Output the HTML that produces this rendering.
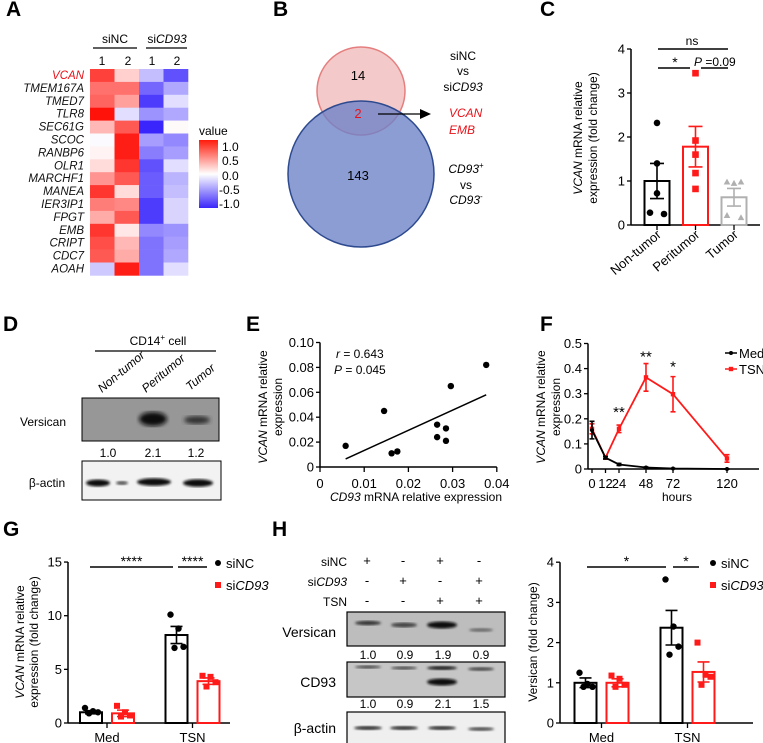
<!DOCTYPE html>
<html><head><meta charset="utf-8"><style>
html,body{margin:0;padding:0;background:#fff;}
svg{display:block;font-family:"Liberation Sans",Arial,sans-serif;}
.pl{font-weight:bold;font-size:21px;}
.t{font-size:12px;}
.it{font-style:italic;}
</style></head><body>
<svg id="fig" width="763" height="743" viewBox="0 0 763 743" xmlns="http://www.w3.org/2000/svg">
<defs>
<linearGradient id="cbar" x1="0" y1="0" x2="0" y2="1">
<stop offset="0" stop-color="#ff1a0a"/><stop offset="0.5" stop-color="#ffffff"/><stop offset="1" stop-color="#3a26fa"/>
</linearGradient>
<filter id="blur1"><feGaussianBlur stdDeviation="2"/></filter>
<filter id="blur2"><feGaussianBlur stdDeviation="1.2"/></filter>
</defs>

<text class="pl" x="6" y="16">A</text>
<text class="pl" x="273" y="16">B</text>
<text class="pl" x="540" y="16">C</text>
<text class="pl" x="3" y="331">D</text>
<text class="pl" x="246" y="331">E</text>
<text class="pl" x="540" y="331">F</text>
<text class="pl" x="3" y="536">G</text>
<text class="pl" x="272" y="536">H</text>

<g id="heatA"></g>
<text class="t" x="115" y="43" text-anchor="middle">siNC</text>
<line x1="93" y1="48" x2="137" y2="48" stroke="#000" stroke-width="1.3"/>
<text class="t" x="167" y="43" text-anchor="middle">si<tspan font-style="italic">CD93</tspan></text>
<line x1="146" y1="48" x2="187" y2="48" stroke="#000" stroke-width="1.3"/>
<text class="t" x="102" y="65" text-anchor="middle">1</text>
<text class="t" x="128" y="65" text-anchor="middle">2</text>
<text class="t" x="152" y="65" text-anchor="middle">1</text>
<text class="t" x="177" y="65" text-anchor="middle">2</text>
<text class="t" x="199" y="135">value</text>
<rect x="199" y="140" width="19" height="68" fill="url(#cbar)"/>
<text class="t" x="222" y="151">1.0</text>
<text class="t" x="222" y="165">0.5</text>
<text class="t" x="222" y="180">0.0</text>
<text class="t" x="219" y="194">-0.5</text>
<text class="t" x="219" y="208">-1.0</text>

<circle cx="361" cy="91" r="44" fill="#f4c9c9" stroke="#e57f7f" stroke-width="1.5"/>
<circle cx="361" cy="174" r="73" fill="#6c82c8" fill-opacity="0.78" stroke="#2e4a8f" stroke-width="1.5"/>
<text x="358" y="80" font-size="13" text-anchor="middle">14</text>
<text x="358" y="118" font-size="13" fill="#e8131a" text-anchor="middle">2</text>
<text x="358" y="180" font-size="13" text-anchor="middle">143</text>
<line x1="378" y1="114" x2="422" y2="114" stroke="#000" stroke-width="1.3"/>
<polygon points="431,114 420,109 420,119" fill="#000"/>
<text class="t" x="463" y="60" text-anchor="middle">siNC</text>
<text class="t" x="463" y="75" text-anchor="middle">vs</text>
<text class="t" x="463" y="91" text-anchor="middle">si<tspan font-style="italic">CD93</tspan></text>
<text class="t it" x="449" y="117" fill="#e8131a">VCAN</text>
<text class="t it" x="449" y="134" fill="#e8131a">EMB</text>
<text class="t" x="466" y="173" text-anchor="middle"><tspan font-style="italic">CD93</tspan><tspan font-size="8" dy="-5">+</tspan></text>
<text class="t" x="466" y="189" text-anchor="middle">vs</text>
<text class="t" x="466" y="204" text-anchor="middle"><tspan font-style="italic">CD93</tspan><tspan font-size="8" dy="-5">-</tspan></text>

<g id="chartC"></g>
<text class="t" transform="translate(582,138) rotate(-90)" text-anchor="middle"><tspan font-style="italic">VCAN</tspan> mRNA relative</text>
<text class="t" transform="translate(597,138) rotate(-90)" text-anchor="middle">expression (fold change)</text>

<text class="t" x="158" y="345" text-anchor="middle">CD14<tspan font-size="8" dy="-5">+</tspan><tspan dy="5"> cell</tspan></text>
<line x1="95" y1="351" x2="216" y2="351" stroke="#000" stroke-width="1.3"/>
<text class="t it" transform="translate(102,393) rotate(-40)">Non-tumor</text>
<text class="t it" transform="translate(146,393) rotate(-40)">Peritumor</text>
<text class="t it" transform="translate(190,391) rotate(-40)">Tumor</text>
<text class="t" x="43" y="426" text-anchor="middle">Versican</text>
<rect x="82" y="398" width="137" height="43" fill="#979797" stroke="#000" stroke-width="1"/>
<ellipse cx="153" cy="419" rx="14" ry="7" fill="#111" filter="url(#blur1)"/>
<ellipse cx="197" cy="420" rx="13" ry="4" fill="#333" filter="url(#blur1)"/>
<text class="t" x="108" y="457" text-anchor="middle">1.0</text>
<text class="t" x="153" y="457" text-anchor="middle">2.1</text>
<text class="t" x="196" y="457" text-anchor="middle">1.2</text>
<text class="t" x="47" y="487" text-anchor="middle">β-actin</text>
<rect x="82" y="461" width="139" height="39" fill="#f2f2f2" stroke="#000" stroke-width="1"/>
<ellipse cx="98" cy="483" rx="12" ry="3.5" fill="#111" filter="url(#blur2)"/>
<ellipse cx="122" cy="483" rx="6" ry="2" fill="#555" filter="url(#blur2)"/>
<ellipse cx="154" cy="482" rx="17" ry="3.8" fill="#111" filter="url(#blur2)"/>
<ellipse cx="198" cy="483" rx="15" ry="3.8" fill="#111" filter="url(#blur2)"/>

<g id="chartE"></g>
<text class="t" x="336" y="358"><tspan font-style="italic">r</tspan> = 0.643</text>
<text class="t" x="334" y="374"><tspan font-style="italic">P</tspan> = 0.045</text>
<text class="t" transform="translate(267,407) rotate(-90)" text-anchor="middle"><tspan font-style="italic">VCAN</tspan> mRNA relative</text>
<text class="t" transform="translate(282,407) rotate(-90)" text-anchor="middle">expression</text>
<text class="t" x="416" y="501" text-anchor="middle"><tspan font-style="italic">CD93</tspan> mRNA relative expression</text>

<g id="chartF"></g>
<text class="t" transform="translate(545,407) rotate(-90)" text-anchor="middle"><tspan font-style="italic">VCAN</tspan> mRNA relative</text>
<text class="t" transform="translate(560,407) rotate(-90)" text-anchor="middle">expression</text>
<text class="t" x="677" y="501" text-anchor="middle">hours</text>

<g id="chartG"></g>
<text class="t" transform="translate(24,642) rotate(-90)" text-anchor="middle"><tspan font-style="italic">VCAN</tspan>  mRNA relative</text>
<text class="t" transform="translate(38,642) rotate(-90)" text-anchor="middle">expression (fold change)</text>

<text class="t" x="347" y="566" text-anchor="end">siNC</text>
<text class="t" x="347" y="586" text-anchor="end">si<tspan font-style="italic">CD93</tspan></text>
<text class="t" x="347" y="606" text-anchor="end">TSN</text>
<g id="pm"></g>
<text x="336" y="637" font-size="14" text-anchor="end">Versican</text>
<rect x="347" y="612" width="158" height="34" fill="#bdbdbd" stroke="#000" stroke-width="1.2"/>
<ellipse cx="368" cy="623" rx="13" ry="2.2" fill="#333" filter="url(#blur2)"/>
<ellipse cx="404" cy="625" rx="13" ry="2.5" fill="#444" filter="url(#blur2)"/>
<ellipse cx="442" cy="625" rx="15" ry="3.5" fill="#111" filter="url(#blur2)"/>
<ellipse cx="481" cy="630" rx="12" ry="1.8" fill="#666" filter="url(#blur2)"/>
<text class="t" x="368" y="659" text-anchor="middle">1.0</text>
<text class="t" x="405" y="659" text-anchor="middle">0.9</text>
<text class="t" x="443" y="659" text-anchor="middle">1.9</text>
<text class="t" x="481" y="659" text-anchor="middle">0.9</text>
<text x="336" y="687" font-size="14" text-anchor="end">CD93</text>
<rect x="347" y="662" width="158" height="35" fill="#c6c6c6" stroke="#000" stroke-width="1.2"/>
<ellipse cx="368" cy="667" rx="13" ry="1.5" fill="#444" filter="url(#blur2)"/>
<ellipse cx="404" cy="668" rx="13" ry="1.5" fill="#444" filter="url(#blur2)"/>
<ellipse cx="442" cy="668" rx="15" ry="2" fill="#222" filter="url(#blur2)"/>
<ellipse cx="442" cy="682" rx="15" ry="3.5" fill="#111" filter="url(#blur2)"/>
<ellipse cx="481" cy="669" rx="13" ry="1.8" fill="#444" filter="url(#blur2)"/>
<text class="t" x="368" y="708" text-anchor="middle">1.0</text>
<text class="t" x="405" y="708" text-anchor="middle">0.9</text>
<text class="t" x="443" y="708" text-anchor="middle">2.1</text>
<text class="t" x="481" y="708" text-anchor="middle">1.5</text>
<text x="336" y="733" font-size="14" text-anchor="end">β-actin</text>
<rect x="347" y="712" width="158" height="34" fill="#efefef" stroke="#000" stroke-width="1.2"/>
<ellipse cx="368" cy="728" rx="14" ry="2" fill="#333" filter="url(#blur2)"/>
<ellipse cx="404" cy="728" rx="14" ry="2" fill="#333" filter="url(#blur2)"/>
<ellipse cx="442" cy="728" rx="14" ry="2" fill="#333" filter="url(#blur2)"/>
<ellipse cx="481" cy="729" rx="13" ry="1.8" fill="#444" filter="url(#blur2)"/>

<g id="chartH"></g>
<text class="t" transform="translate(537,642) rotate(-90)" text-anchor="middle">Versican (fold change)</text>
</svg>

<script>
const genes = ["VCAN","TMEM167A","TMED7","TLR8","SEC61G","SCOC","RANBP6","OLR1","MARCHF1","MANEA","IER3IP1","FPGT","EMB","CRIPT","CDC7","AOAH"];
const heatS1 = [0.8,0.6,0.65,1.0,0.3,-0.02,0.05,0.15,0.45,0.85,0.55,0.35,0.85,0.75,0.7,-0.25];
const heatS2 = [0.2,0.6,0.4,-0.15,0.7,0.95,0.95,0.85,0.7,0.15,0.5,0.7,0.1,0.3,0.35,0.95];
const heatS3 = [-0.3,-0.7,-0.9,-0.5,-1.0,-0.45,-0.6,-0.8,-0.75,-0.75,-0.9,-0.9,-0.55,-0.65,-0.65,-0.65];
const heatS4 = [-0.8,-0.4,-0.15,-0.4,0.02,-0.55,-0.45,-0.15,-0.35,-0.3,-0.2,-0.2,-0.5,-0.45,-0.4,-0.15];

const cCats = ["Non-tumor","Peritumor","Tumor"];
const cMeans = [1.0,1.78,0.63];
const cSem = [0.4,0.46,0.2];
const cPts0 = [2.32,1.4,0.72,0.28,0.25];
const cPts1 = [3.45,1.92,1.6,1.18,0.82];
const cPts2 = [0.98,0.95,0.98,0.22,0.17];
const cTicks = [0,1,2,3,4];

const eX = [0.0058,0.0145,0.0162,0.0175,0.0265,0.0265,0.0285,0.0285,0.0296,0.0376];
const eY = [0.017,0.045,0.011,0.0125,0.034,0.024,0.031,0.021,0.065,0.082];
const eFitX = [0.0058,0.0376];
const eFitY = [0.0065,0.058];
const eXTicks = [0,0.01,0.02,0.03,0.04];
const eXTickLabels = ["0","0.01","0.02","0.03","0.04"];
const eYTicks = [0,0.02,0.04,0.06,0.08,0.10];
const eYTickLabels = ["0","0.02","0.04","0.06","0.08","0.10"];

const fMedH = [0,12,24,48,72,120];
const fMedV = [0.155,0.045,0.018,0.006,0.002,0.0];
const fMedE = [0.035,0.005,0.004,0.002,0.001,0.001];
const fTsnH = [0,12,24,48,72,120];
const fTsnV = [0.16,0.045,0.16,0.365,0.298,0.042];
const fTsnE = [0.02,0.005,0.015,0.055,0.07,0.015];
const fXTicks = [0,12,24,48,72,120];
const fYTicks = [0,0.1,0.2,0.3,0.4,0.5];
const fYTickLabels = ["0","0.1","0.2","0.3","0.4","0.5"];

const gGroups = ["Med","TSN"];
const gMeanNC = [1.0,8.2];
const gMeanKD = [0.9,3.9];
const gSemNC = [0.15,0.8];
const gSemKD = [0.3,0.3];
const gPtsNC = [[1.4,1.1,1.0,0.9],[10.1,8.8,7.1,7.0]];
const gPtsKD = [[1.6,1.0,0.7,0.6],[4.4,4.3,3.8,3.4]];
const gTicks = [0,5,10,15];

const hGroups = ["Med","TSN"];
const hMeanNC = [1.0,2.37];
const hMeanKD = [1.0,1.27];
const hSemNC = [0.12,0.43];
const hSemKD = [0.1,0.25];
const hPtsNC = [[1.25,0.97,0.9,0.9],[3.57,2.4,1.9,1.7]];
const hPtsKD = [[1.18,1.1,0.95,0.9],[2.0,1.2,1.15,0.95]];
const hTicks = [0,1,2,3,4];
const hSiNC = ["+","-","+","-"];
const hSiKD = ["-","+","-","+"];
const hTSN = ["-","-","+","+"];

const NS = "http://www.w3.org/2000/svg";
function mk(tag, attrs, parent){
  const e = document.createElementNS(NS, tag);
  for (const k in attrs) e.setAttribute(k, attrs[k]);
  parent.appendChild(e);
  return e;
}
function txt(s, attrs, parent){
  const e = mk('text', attrs, parent);
  e.textContent = s;
  return e;
}
const RED = "#ff1a1a";

(function(){
  const g = document.getElementById('heatA');
  const cols = [heatS1,heatS2,heatS3,heatS4];
  function col(v){
    if (v >= 0) { const t=Math.min(1,v); return `rgb(255,${Math.round(255-255*t*0.93)},${Math.round(255-255*t*0.96)})`; }
    const t=Math.min(1,-v); return `rgb(${Math.round(255-(255-58)*t)},${Math.round(255-(255-38)*t)},${Math.round(255-3*t)})`;
  }
  const top = 69, h = 12.9;
  for (let i=0;i<genes.length;i++){
    const lab = txt(genes[i], {x:84, y:top+i*h+10, 'text-anchor':'end', 'font-size':'11.5', 'font-style':'italic', fill: i===0?'#e8131a':'#111'}, g);
    
    
    for (let j=0;j<4;j++){
      const r = mk('rect', {x:90+j*24.5, y:top+i*h, width:24.8, height:h+0.3, fill: col(cols[j][i])}, g);
      
      
    }
  }
})();

function axisY(g, x0, yfn, ticks, labels){
  const a = mk('line', {x1:x0, y1:yfn(ticks[ticks.length-1]), x2:x0, y2:yfn(ticks[0]), stroke:'#000','stroke-width':1.5}, g);
  
  
  ticks.forEach((t,i)=>{
    const tk = mk('line', {x1:x0-4, y1:yfn(t), x2:x0, y2:yfn(t), stroke:'#000','stroke-width':1.3}, g);
    
    
    const tl = txt(labels[i], {x:x0-6, y:yfn(t)+4.5, 'text-anchor':'end', 'font-size':'13'}, g);
    
    
  });
}
function errBar(g, x, y1, y2, color, w){
  const l = mk('path', {d:`M${x},${y1}V${y2}M${x-w},${y1}H${x+w}M${x-w},${y2}H${x+w}`, stroke:color,'stroke-width':1.6, fill:'none'}, g);
  
  
}
function dot(g, x, y, color, shape, s){
  let e;
  if (shape==='c') e = mk('circle', {cx:x, cy:y, r:s, fill:color}, g);
  else if (shape==='s') e = mk('rect', {x:x-s, y:y-s, width:2*s, height:2*s, fill:color}, g);
  else e = mk('polygon', {points:`${x},${y-s} ${x-s},${y+s*0.8} ${x+s},${y+s*0.8}`, fill:color}, g);
  
  
}

// C
(function(){
  const g = document.getElementById('chartC');
  const y = v => 225 - v*44;
  const xc = i => 657 + i*38.5;
  axisY(g, 631, y, cTicks, cTicks.map(String));
  const xa = mk('line', {x1:631, y1:225, x2:760, y2:225, stroke:'#000','stroke-width':1.5}, g);
  
  
  const colors = ['#000', RED, '#b0b0b0'];
  const shapes = ['c','s','t'];
  const pts = [cPts0,cPts1,cPts2];
  const jit = [[0,0,0,-7,7],[0,0,0,0,0],[-7,0,7,-7,7]];
  cCats.forEach((c,i)=>{
    const x = xc(i);
    const b = mk('rect', {x:x-12.5, y:y(cMeans[i]), width:25, height:225-y(cMeans[i]), fill:'#fff', stroke:colors[i], 'stroke-width':2}, g);
    
    
    errBar(g, x, y(cMeans[i]+cSem[i]), y(cMeans[i]-cSem[i]), colors[i], 7);
    pts[i].forEach((v,k)=> dot(g, x+jit[i][k], y(v), colors[i], shapes[i], 3.3));
    const tk = mk('line', {x1:x, y1:225, x2:x, y2:230, stroke:'#000','stroke-width':1.3}, g);
    
    
    const tl = txt(c, {transform:`translate(${x+5},${236}) rotate(-40)`, 'text-anchor':'end','font-size':'13'}, g);
    
    
  });
  const l1 = mk('line', {x1:658, y1:49, x2:728, y2:49, stroke:'#000','stroke-width':1.4}, g);
  
  
  const t1 = txt('ns', {x:692, y:45, 'text-anchor':'middle','font-size':'12'}, g);
  
  
  const l2 = mk('path', {d:'M658,68H690M701,68H728', stroke:'#000','stroke-width':1.4}, g);
  
  
  const t2 = txt('*', {x:675, y:67, 'text-anchor':'middle','font-size':'14'}, g);
  
  
  const t3 = txt('', {x:694, y:66, 'font-size':'12'}, g);
  t3.innerHTML = '<tspan font-style="italic">P</tspan> =0.09';
  
  
})();

// E
(function(){
  const g = document.getElementById('chartE');
  const x = v => 320 + v*4420;
  const y = v => 467 - v*1245;
  axisY(g, 320, y, eYTicks, eYTickLabels);
  const xa = mk('line', {x1:320, y1:467, x2:x(0.04), y2:467, stroke:'#000','stroke-width':1.5}, g);
  
  
  eXTicks.forEach((t,i)=>{
    const tk = mk('line', {x1:x(t), y1:467, x2:x(t), y2:472, stroke:'#000','stroke-width':1.3}, g);
    
    
    const tl = txt(eXTickLabels[i], {x:x(t), y:488, 'text-anchor':'middle','font-size':'13'}, g);
    
    
  });
  const fit = mk('line', {x1:x(eFitX[0]), y1:y(eFitY[0]), x2:x(eFitX[1]), y2:y(eFitY[1]), stroke:'#000','stroke-width':1.5}, g);
  
  
  eX.forEach((v,i)=> dot(g, x(v), y(eY[i]), '#000', 'c', 3.2));
})();

// F
(function(){
  const g = document.getElementById('chartF');
  const x = h => 592 + h*1.125;
  const y = v => 469 - v*251;
  axisY(g, 588, y, fYTicks, fYTickLabels);
  const xa = mk('line', {x1:588, y1:469, x2:759, y2:469, stroke:'#000','stroke-width':1.5}, g);
  
  
  fXTicks.forEach(t=>{
    const tk = mk('line', {x1:x(t), y1:469, x2:x(t), y2:473, stroke:'#000','stroke-width':1.3}, g);
    
    
    const tl = txt(String(t), {x:x(t), y:488, 'text-anchor':'middle','font-size':'13'}, g);
    
    
  });
  function series(H,V,E,color,name){
    const p = mk('polyline', {points:H.map((h,i)=>x(h)+','+y(V[i])).join(' '), fill:'none', stroke:color,'stroke-width':1.8}, g);
    
    
    H.forEach((h,i)=>{
      errBar(g, x(h), y(V[i]+E[i]), y(V[i]-E[i]), color, 2.5);
      if (color===RED) dot(g, x(h), y(V[i]), color, 's', 2.2); else dot(g, x(h), y(V[i]), color, 'c', 2);
    });
  }
  series(fTsnH,fTsnV,fTsnE,RED,'tsn');
  series(fMedH,fMedV,fMedE,'#000','med');
  const stars = [[24,0.2,'**'],[48,0.42,'**'],[72,0.38,'*']];
  stars.forEach(s=>{
    const t = txt(s[2], {x:x(s[0]), y:y(s[1])-2, 'text-anchor':'middle','font-size':'15'}, g);
    
    
  });
  const lm = mk('line', {x1:725, y1:353, x2:737, y2:353, stroke:'#000','stroke-width':1.5}, g);
  
  
  dot(g, 731, 353, '#000', 'c', 2);
  const lt = txt('Med', {x:739, y:358, 'font-size':'13'}, g);
  
  
  const lr = mk('line', {x1:725, y1:369, x2:737, y2:369, stroke:RED,'stroke-width':1.5}, g);
  
  
  dot(g, 731, 369, RED, 's', 2.2);
  const lt2 = txt('TSN', {x:739, y:374, 'font-size':'13'}, g);
  
  
})();

function grouped(gid, x0, xEnd, base, perUnit, ticks, groups, mNC, mKD, sNC, sKD, pNC, pKD, c0, gap, bw, brk, legX){
  const g = document.getElementById(gid);
  const y = v => base - v*perUnit;
  axisY(g, x0, y, ticks, ticks.map(String));
  const xa = mk('line', {x1:x0, y1:base, x2:xEnd, y2:base, stroke:'#000','stroke-width':1.5}, g);
  
  
  const jit = [-6,2,7,-2];
  groups.forEach((grp,i)=>{
    const xn = c0 + i*gap, xk = xn + 32;
    const b1 = mk('rect', {x:xn-bw/2, y:y(mNC[i]), width:bw, height:base-y(mNC[i]), fill:'#fff', stroke:'#000','stroke-width':2}, g);
    
    
    const b2 = mk('rect', {x:xk-bw/2, y:y(mKD[i]), width:bw, height:base-y(mKD[i]), fill:'#fff', stroke:RED,'stroke-width':2}, g);
    
    
    errBar(g, xn, y(mNC[i]+sNC[i]), y(mNC[i]-sNC[i]), '#000', 6);
    errBar(g, xk, y(mKD[i]+sKD[i]), y(mKD[i]-sKD[i]), RED, 6);
    pNC[i].forEach((v,k)=> dot(g, xn+jit[k], y(v), '#000', 'c', 3.2));
    pKD[i].forEach((v,k)=> dot(g, xk+jit[k], y(v), RED, 's', 3));
    const xm = (xn+xk)/2;
    const tk = mk('line', {x1:xm, y1:base, x2:xm, y2:base+5, stroke:'#000','stroke-width':1.3}, g);
    
    
    const tl = txt(grp, {x:xm, y:base+19, 'text-anchor':'middle','font-size':'13'}, g);
    
    
  });
  brk.forEach(b=>{
    const l = mk('line', {x1:b[0], y1:b[2], x2:b[1], y2:b[2], stroke:'#000','stroke-width':1.6}, g);
    
    
    const t = txt(b[3], {x:(b[0]+b[1])/2, y:b[2]-1, 'text-anchor':'middle','font-size':'14'}, g);
    
    
  });
  dot(g, legX, 563, '#000', 'c', 3);
  const l1 = txt('siNC', {x:legX+8, y:568, 'font-size':'13'}, g);
  
  
  dot(g, legX, 585, RED, 's', 3);
  const l2 = txt('', {x:legX+8, y:590, 'font-size':'13'}, g);
  l2.innerHTML = 'si<tspan font-style="italic">CD93</tspan>';
  
  
}
grouped('chartG', 68, 230, 723, 10.73, gTicks, gGroups, gMeanNC, gMeanKD, gSemNC, gSemKD, gPtsNC, gPtsKD, 91, 85.5, 22,
  [[90,173,567,'****'],[178,207,567,'****']], 218);
grouped('chartH', 560, 753, 723, 40.2, hTicks, hGroups, hMeanNC, hMeanKD, hSemNC, hSemKD, hPtsNC, hPtsKD, 585.5, 86, 22,
  [[587,666,567,'*'],[673,699,567,'*']], 713);

(function(){
  const g = document.getElementById('pm');
  const xs = [367,403,440,479];
  [hSiNC,hSiKD,hTSN].forEach((row,r)=>{
    row.forEach((s,c)=>{
      const t = txt(s, {x:xs[c], y:565+r*20, 'text-anchor':'middle','font-size':'13'}, g);
      
      
    });
  });
})();
</script>
</body></html>
